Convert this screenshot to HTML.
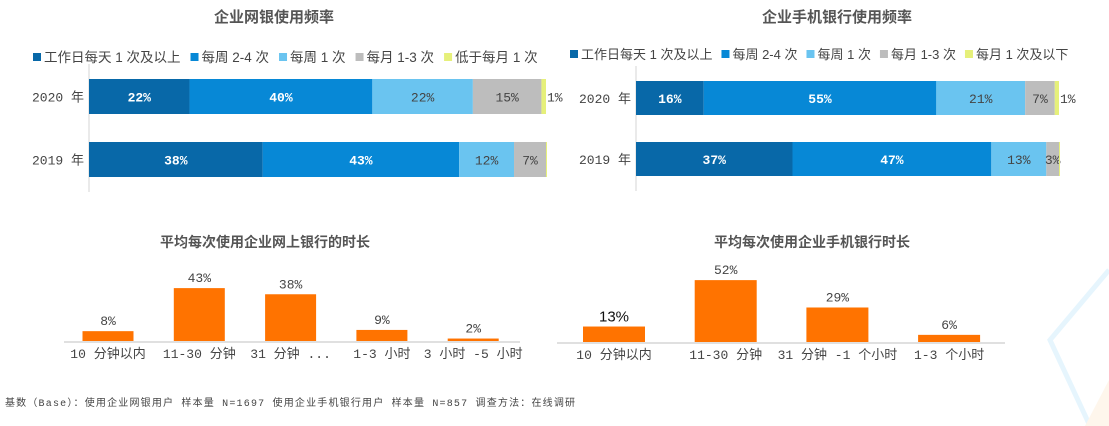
<!DOCTYPE html>
<html><head><meta charset="utf-8">
<style>
html,body{margin:0;padding:0;background:#fff;}
body{width:1109px;height:426px;overflow:hidden;position:relative;font-family:"Liberation Mono","Noto Sans CJK SC",monospace;}
svg{position:absolute;left:0;top:0;}
</style></head>
<body>
<svg id="c" width="1109" height="426"
 font-family="'Liberation Mono','Noto Sans CJK SC',monospace">
 <g>
  <polyline points="1109,270 1050,340 1090,426" fill="none" stroke="#e6f5fd" stroke-width="5"/>
  <polygon points="1109,380 1085,426 1109,426" fill="#fef6ec"/>
 </g>
</svg>
<script>
const NS='http://www.w3.org/2000/svg';
const svg=document.getElementById('c');
function mk(tag,attrs,parent){const e=document.createElementNS(NS,tag);for(const k in attrs)e.setAttribute(k,attrs[k]);(parent||svg).appendChild(e);return e;}
function txt(x,y,s,attrs,parent){const t=mk('text',Object.assign({x:x,y:y},attrs),parent);t.textContent=s;return t;}

const colors=['#0868a8','#0788d6','#6ac4f0','#bdbdbd','#e6f07a'];
const textColors=['#fff','#fff','#444','#444','#444'];
const years=['2020 年','2019 年'];
const legend1=['工作日每天 1 次及以上','每周 2-4 次','每周 1 次','每月 1-3 次','低于每月 1 次'];
const legend2=['工作日每天 1 次及以上','每周 2-4 次','每周 1 次','每月 1-3 次','每月 1 次及以下'];
const web2020=[22,40,22,15,1];
const web2019=[38,43,12,7,0];
const mob2020=[16,55,21,7,1];
const mob2019=[37,47,13,3,0];

const durCats1=['10 分钟以内','11-30 分钟','31 分钟 ...','1-3 小时','3 小时 -5 小时'];
const durVals1=[8,43,38,9,2];
const durCats2=['10 分钟以内','11-30 分钟','31 分钟 -1 个小时','1-3 个小时'];
const durVals2=[13,52,29,6];

function stacked(cfg){
  const g=mk('g',{});
  
  
  const t=txt(cfg.titleX,22,cfg.title,{'text-anchor':'middle','font-size':15,'font-weight':'bold',fill:'#555','font-family':"'Liberation Sans','Noto Sans CJK SC',sans-serif"},g);
  
  
  let lx=cfg.legX;
  cfg.legend.forEach((s,i)=>{
    const lg=mk('g',{},g);
    
    
    mk('rect',{x:lx,y:cfg.legY-9,width:8,height:8,fill:colors[i]},lg);
    const tt=txt(lx+11,cfg.legY,s,{'font-size':cfg.lfs,fill:'#444','font-family':"'Liberation Sans','Noto Sans CJK SC',sans-serif"},lg);
    lx+=11+tt.getComputedTextLength()+cfg.gap;
  });
  const sc=cfg.w/100;
  mk('line',{x1:cfg.x0,x2:cfg.x0,y1:cfg.rows[0]-15,y2:cfg.rows[1]+cfg.h+15,stroke:'#e3e3e3','stroke-width':1.5},g);
  [cfg.d2020,cfg.d2019].forEach((vals,r)=>{
    const y=cfg.rows[r];
    const yl=txt(cfg.x0-5,y+cfg.h/2+5,years[r],{'text-anchor':'end','font-size':13,fill:'#444'},g);
    
    
    let acc=0;
    vals.forEach((v,i)=>{
      const x=cfg.x0+acc*sc, w=v*sc;
      acc+=v;
      if(v<=0){ if(i===4){mk('rect',{x:x,y:y,width:1,height:cfg.h,fill:colors[i]},g);} return; }
      const b=mk('rect',{x:x,y:y,width:w,height:cfg.h,fill:colors[i]},g);
      
      
      const lx2=(i===4)?x+w+1:x+w/2;
      const lb=txt(lx2,y+cfg.h/2+5,v+'%',{'text-anchor':i===4?'start':'middle','font-size':13,'font-weight':i<2?'bold':'normal',fill:textColors[i]},g);
      
      
    });
  });
}
stacked({name:'web-banking-frequency',title:'企业网银使用频率',titleX:274,legX:33,legY:62,gap:10,lfs:13.5,legend:legend1,x0:89,w:457,rows:[79,142],h:35,d2020:web2020,d2019:web2019});
stacked({name:'mobile-banking-frequency',title:'企业手机银行使用频率',titleX:837,legX:570,legY:59,gap:9,lfs:13,legend:legend2,x0:636,w:423,rows:[81,142],h:34,d2020:mob2020,d2019:mob2019});

function columns(cfg){
  const g=mk('g',{});
  
  
  const t=txt(cfg.titleX,247,cfg.title,{'text-anchor':'middle','font-size':14,'font-weight':'bold',fill:'#555','font-family':"'Liberation Sans','Noto Sans CJK SC',sans-serif"},g);
  
  
  mk('line',{x1:cfg.ax0,x2:cfg.ax1,y1:cfg.base+1,y2:cfg.base+1,stroke:'#e0e0e0','stroke-width':2},g);
  cfg.cats.forEach((c,i)=>{
    const cx=cfg.c0+i*cfg.step, v=cfg.vals[i], h=v*cfg.sc;
    const b=mk('rect',{x:cx-cfg.bw/2,y:cfg.base-h,width:cfg.bw,height:h,fill:'#ff7300'},g);
    
    
    const special=cfg.special===i;
    const vl=txt(cx,cfg.base-h-(special?5:6),v+'%',{'text-anchor':'middle','font-size':special?15:13,fill:special?'#111':'#444','font-family':special?"'Liberation Sans',sans-serif":"'Liberation Mono',monospace"},g);
    
    
    const cl=txt(cx,cfg.base+17,c,{'text-anchor':'middle','font-size':13,fill:'#444'},g);
    
    
  });
}
columns({name:'web-banking-duration',title:'平均每次使用企业网上银行的时长',titleX:265,ax0:64,ax1:520,base:341,c0:108,step:91.3,bw:51,sc:1.23,cats:durCats1,vals:durVals1});
columns({name:'mobile-banking-duration',title:'平均每次使用企业手机银行时长',titleX:812,ax0:557,ax1:1005,base:342,c0:614,step:111.7,bw:62,sc:1.19,cats:durCats2,vals:durVals2,special:0});

const f=txt(5,406,'基数（Base）：使用企业网银用户  样本量 N=1697      使用企业手机银行用户  样本量 N=857   调查方法：在线调研',{'font-size':10,fill:'#444'});
f.setAttribute('textLength','570');


</script>
</body></html>
